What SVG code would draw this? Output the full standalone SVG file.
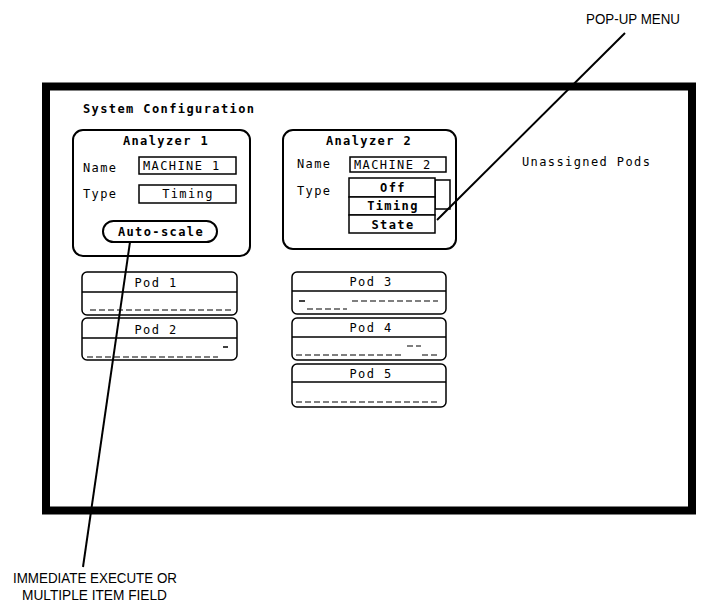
<svg xmlns="http://www.w3.org/2000/svg" width="701" height="611" viewBox="0 0 701 611">
<style>
.scr{font-family:"DejaVu Sans Mono","Liberation Mono",monospace;font-size:12px;letter-spacing:1.4px;fill:#000}
.b{font-weight:bold}
.m{text-anchor:middle}
.lbl{font-family:"Liberation Sans",Arial,sans-serif;font-size:14px;fill:#000}
.box{fill:#fff;stroke:#000;stroke-width:2}
.fld{fill:#fff;stroke:#000;stroke-width:1.5}
.pod{fill:#fff;stroke:#000;stroke-width:1.5}
.ln{stroke:#000;stroke-width:1.5}
.dash{stroke:#000;stroke-width:1.2;stroke-dasharray:6 3}
.lead{stroke:#000;stroke-width:2;fill:none}
</style>
<rect width="701" height="611" fill="#fff"/>
<g id="screen">
<rect x="46" y="86.5" width="646" height="424" fill="none" stroke="#000" stroke-width="8"/>
<text class="scr b" x="83" y="113">System Configuration</text>
</g>
<g id="analyzer1">
<rect class="box" x="73" y="130" width="177" height="126" rx="10"/>
<text class="scr b m" x="166" y="145">Analyzer 1</text>
<text class="scr" x="83" y="172">Name</text>
<rect class="fld" x="139" y="157" width="97" height="17"/>
<text class="scr" x="143" y="170">MACHINE 1</text>
<text class="scr" x="83" y="198">Type</text>
<rect class="fld" x="139" y="185" width="97" height="18"/>
<text class="scr m" x="188" y="198">Timing</text>
<rect class="box" x="103" y="221" width="114" height="21" rx="10.5"/>
<text class="scr b m" x="161" y="236">Auto-scale</text>
</g>
<g id="analyzer2">
<rect class="box" x="283" y="130" width="173" height="119" rx="10"/>
<text class="scr b m" x="369" y="145">Analyzer 2</text>
<text class="scr" x="297" y="168">Name</text>
<rect class="fld" x="350" y="157" width="96" height="15"/>
<text class="scr" x="354" y="169">MACHINE 2</text>
<text class="scr" x="297" y="195">Type</text>
<rect class="fld" x="435" y="180" width="15" height="29"/>
<rect class="fld" x="349" y="178" width="86" height="19"/>
<text class="scr b m" x="393" y="192">Off</text>
<rect class="fld" x="349" y="197" width="86" height="18"/>
<text class="scr b m" x="393" y="210">Timing</text>
<rect class="fld" x="349" y="215" width="86" height="18"/>
<text class="scr b m" x="393" y="229">State</text>
</g>
<g id="unassigned">
<text class="scr" x="522" y="166">Unassigned Pods</text>
</g>
<g id="pod1">
<rect class="pod" x="82" y="272" width="155" height="43" rx="5"/>
<line class="ln" x1="82" y1="292" x2="237" y2="292"/>
<text class="scr m" x="156" y="287">Pod 1</text>
<line class="dash" x1="90" y1="310" x2="233" y2="310"/>
</g>
<g id="pod2">
<rect class="pod" x="82" y="318" width="155" height="42" rx="5"/>
<line class="ln" x1="82" y1="338" x2="237" y2="338"/>
<text class="scr m" x="156" y="334">Pod 2</text>
<line class="dash" x1="87" y1="357" x2="218" y2="357"/>
<line class="ln" x1="223" y1="347" x2="228" y2="347"/>
</g>
<g id="pod3">
<rect class="pod" x="292" y="272" width="154" height="42" rx="5"/>
<line class="ln" x1="292" y1="291" x2="446" y2="291"/>
<text class="scr m" x="371" y="286">Pod 3</text>
<line class="ln" x1="299" y1="301" x2="305" y2="301"/>
<line class="dash" x1="352" y1="301" x2="438" y2="301"/>
<line class="dash" x1="307" y1="309" x2="347" y2="309"/>
</g>
<g id="pod4">
<rect class="pod" x="292" y="318" width="154" height="42" rx="5"/>
<line class="ln" x1="292" y1="337" x2="446" y2="337"/>
<text class="scr m" x="371" y="332">Pod 4</text>
<line class="dash" x1="407" y1="346" x2="421" y2="346"/>
<line class="dash" x1="296" y1="355" x2="402" y2="355"/>
<line class="dash" x1="422" y1="355" x2="438" y2="355"/>
</g>
<g id="pod5">
<rect class="pod" x="292" y="364" width="154" height="43" rx="5"/>
<line class="ln" x1="292" y1="382" x2="446" y2="382"/>
<text class="scr m" x="371" y="378">Pod 5</text>
<line class="dash" x1="296" y1="402" x2="438" y2="402"/>
</g>
<g id="connectors">
<line class="lead" x1="130" y1="242" x2="83" y2="567"/>
<line class="lead" x1="625" y1="33" x2="437" y2="220"/>
</g>
<g id="callouts">
<text class="lbl" x="586" y="24" textLength="94" lengthAdjust="spacingAndGlyphs">POP-UP MENU</text>
<text class="lbl" x="13" y="583" textLength="164" lengthAdjust="spacingAndGlyphs">IMMEDIATE EXECUTE OR</text>
<text class="lbl" x="22" y="600" textLength="145" lengthAdjust="spacingAndGlyphs">MULTIPLE ITEM FIELD</text>
</g>
</svg>
